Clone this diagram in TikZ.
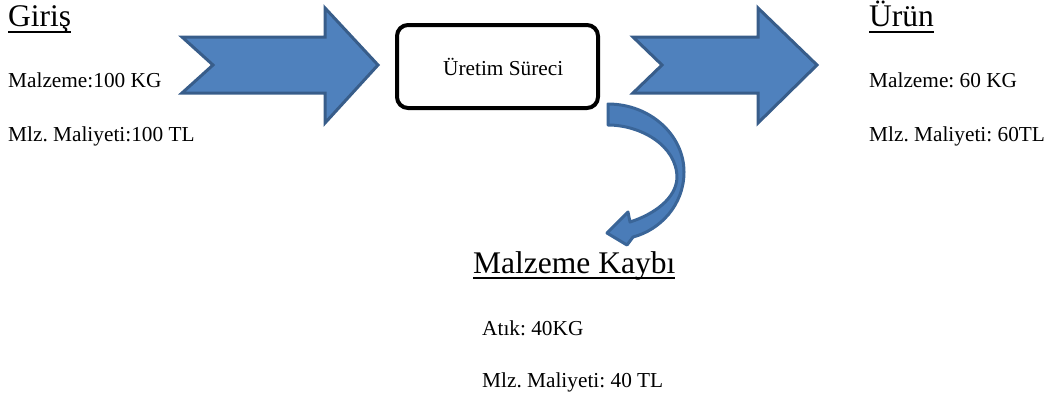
\documentclass[tikz,border=0pt]{standalone}
\usepackage{fontspec}
\setmainfont{Liberation Serif}
\frenchspacing
\definecolor{arrowfill}{HTML}{4F81BD}
\definecolor{arrowline}{HTML}{385D8A}
\definecolor{curvefill}{HTML}{4A7CB8}
\definecolor{curveline}{HTML}{3A6598}
\begin{document}
\begin{tikzpicture}[x=1pt,y=-1pt,
  bodytext/.style={anchor=base west,inner sep=0pt,font=\fontsize{21.3}{25}\selectfont},
  headtext/.style={anchor=base west,inner sep=0pt,font=\fontsize{31.5}{36}\selectfont},
  uline/.style={line width=2pt},
  blockarrow/.style={fill=arrowfill,draw=arrowline,line width=3pt,line join=miter},
  curvearrow/.style={fill=curvefill,draw=curveline,line width=3pt,line join=round},
  procbox/.style={draw=black,line width=4pt,rounded corners=11pt}]
\useasboundingbox (0,0) rectangle (1055,400);
% block arrows
\draw[blockarrow] (182,37) -- (325,37) -- (325,8) -- (378,65) -- (325,123) -- (325,93) -- (182,93) -- (213,65) -- cycle;
\draw[blockarrow] (633,37) -- (758,37) -- (758,8) -- (817,65) -- (758,123) -- (758,93) -- (633,93) -- (662,65) -- cycle;
% process box
\draw[procbox] (397,25) rectangle (598,108);
\node[bodytext] (proc) at (443,75) {Üretim Süreci};
% curved arrow
\draw[curvearrow] (608,104) .. controls (650,104) and (684,135) .. (684,172)
  .. controls (684,205) and (660,230) .. (633,237) -- (627,245) -- (607,233) -- (628,212) -- (630,222)
  .. controls (655,214) and (676,198) .. (677,178)
  .. controls (677,145) and (640,125) .. (608,125) -- cycle;
% left texts
\node[headtext] (giris) at (8,26) {Giriş};
\draw[uline] ([yshift=-5.5pt]giris.base west) -- ([yshift=-5.5pt]giris.base east);
\node[bodytext] (gm) at (8,87) {Malzeme:100 KG};
\node[bodytext] (gc) at (8,141) {Mlz. Maliyeti:100 TL};
% right texts
\node[headtext] (urun) at (869,26) {Ürün};
\draw[uline] ([yshift=-5.5pt]urun.base west) -- ([yshift=-5.5pt]urun.base east);
\node[bodytext] (um) at (869,87) {Malzeme: 60 KG};
\node[bodytext] (uc) at (869,141) {Mlz. Maliyeti: 60TL};
% bottom texts
\node[headtext] (kayip) at (473,273) {Malzeme Kaybı};
\draw[uline] ([yshift=-5pt]kayip.base west) -- ([yshift=-5pt]kayip.base east);
\node[bodytext] (atik) at (482,335) {Atık: 40KG};
\node[bodytext] (kc) at (482,387) {Mlz. Maliyeti: 40 TL};
\end{tikzpicture}
\end{document}
